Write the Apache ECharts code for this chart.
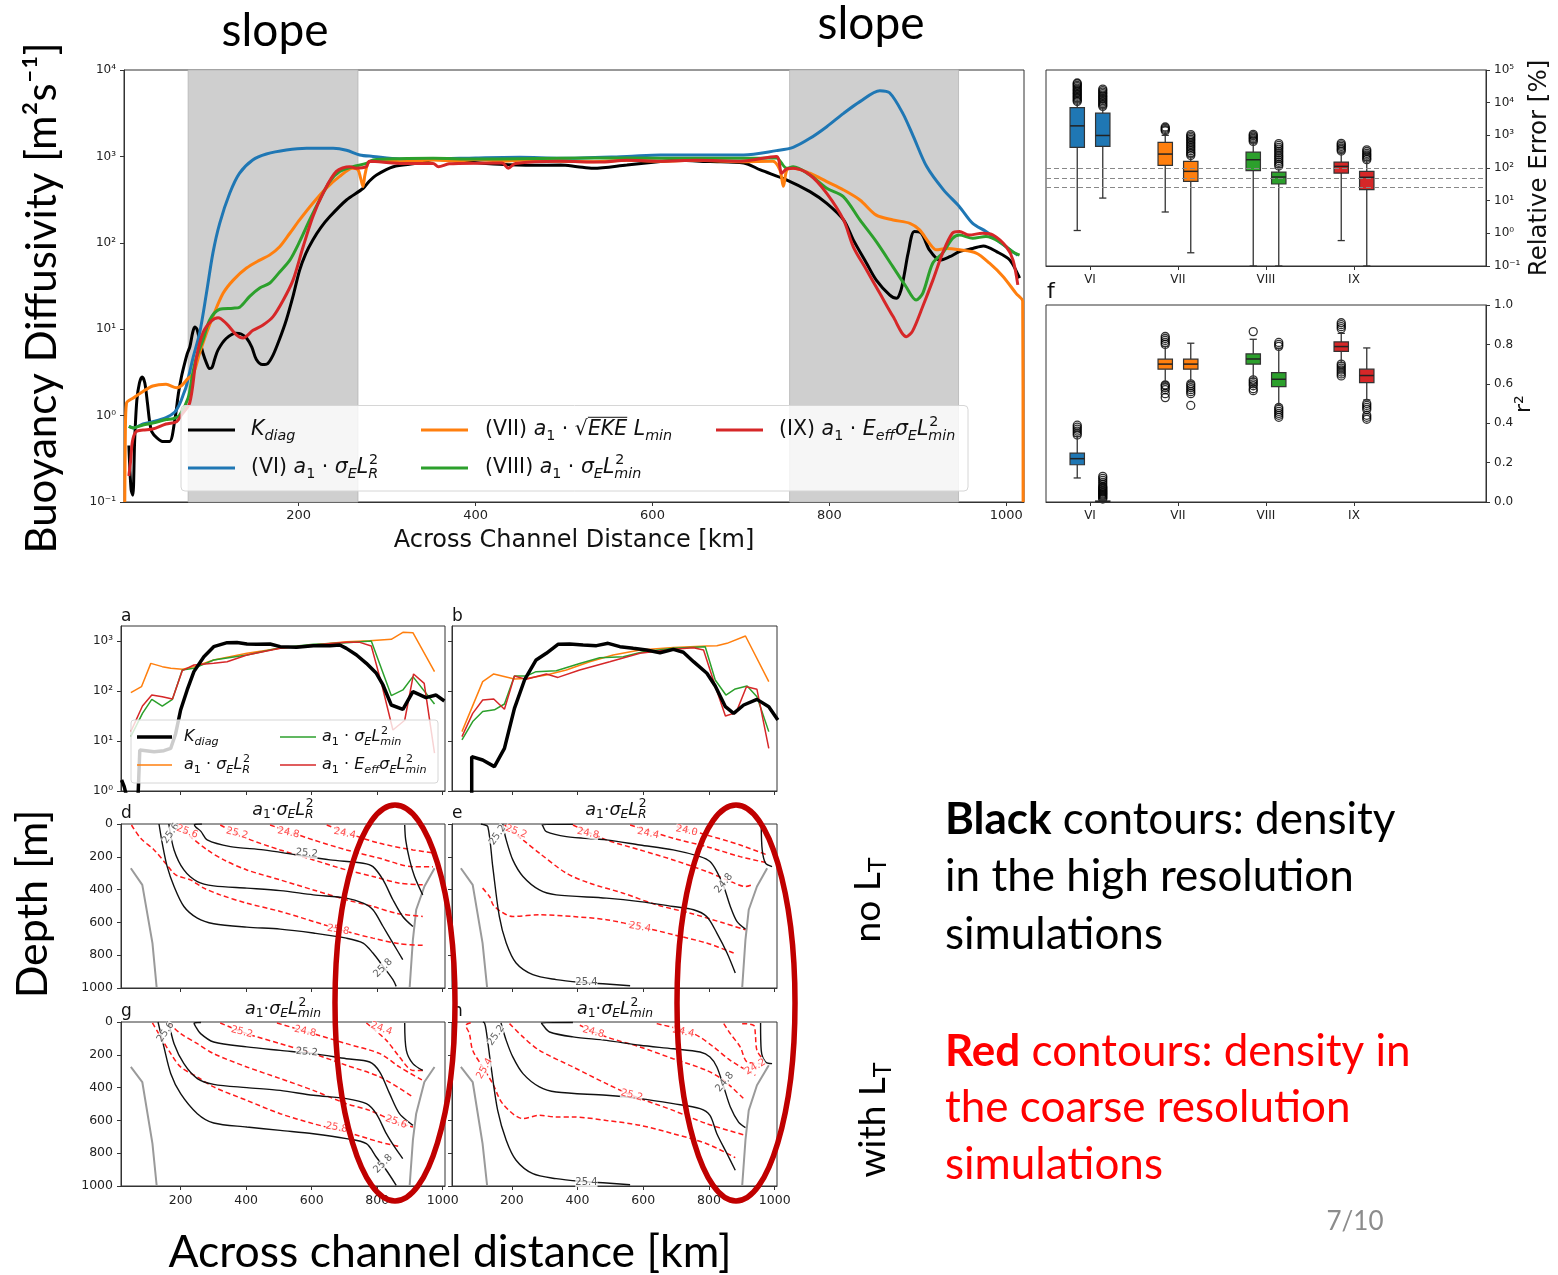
<!DOCTYPE html>
<html><head><meta charset="utf-8">
<script src="https://cdn.jsdelivr.net/npm/echarts@6/dist/echarts.min.js"></script>
<style>html,body{margin:0;padding:0;background:#fff}#c{width:1558px;height:1275px}</style>
</head><body><div id="c"></div>
<script>
// ---------------- DATA ----------------
const mainXTicks = [200, 400, 600, 800, 1000];
const smallXTicks = [200, 400, 600, 800, 1000];
const slopeBands = [[75, 267], [755, 946]];

const mainKdiag = [[8,0.45],[10.5,0.14],[12.5,0.12],[14.5,0.5],[17,1.5],[20,2.4],[23,2.8],[26,2.4],[29,1.4],[31.5,0.85],[34,0.65],[40,0.55],[47,0.5],[54,0.5],[60,0.9],[64,1.8],[67.4,2.8],[71,4],[74,5.2],[77,6.3],[80,9],[82.5,10.6],[85,10],[88,7.5],[92,5.2],[96,4.0],[99,3.5],[102,3.6],[105,4.5],[109,5.8],[118,7.8],[129,9],[135,8.8],[141,7.9],[147,6.2],[152,4.5],[159,3.9],[165,4.0],[171,5.0],[178,7.5],[186,12.8],[194,25],[201,48],[208,75],[216,108],[225,150],[235,200],[254,313],[273,428],[280,520],[288,610],[307,760],[333,830],[356,925],[370,900],[390,860],[427,810],[465,790],[496,795],[515,760],[533,728],[571,795],[609,870],[628,900],[665,870],[703,840],[722,697],[752,533],[778,391],[797,286],[816,184],[827,108],[842,58],[853,37],[868,25],[876,22.8],[881,28.5],[885,45],[889,76],[896,135],[904,129],[913,83],[925,63],[936,69],[947,79],[962,86],[974,92],[989,79],[1004,63],[1015,39]];
const mainVI = [[8,0.75],[13,0.72],[24,0.8],[35,0.85],[50,0.95],[60,1.1],[66,1.4],[70,1.8],[73,2.2],[80.6,4.7],[88,9],[95.7,26],[103,76],[110.7,168],[122,374],[133,637],[148,910],[163.5,1066],[186,1186],[209,1241],[239,1241],[254,1180],[269,1040],[284,1000],[314,935],[352,935],[400,960],[450,975],[496,950],[571,1000],[609,1040],[650,1040],[703,1040],[740,1166],[759,1273],[778,1618],[797,2208],[816,3150],[834.5,4305],[857,5770],[868,5450],[883,3150],[895,1695],[910,762],[929,410],[947,262],[962,168],[977,135],[992,103],[1007,79],[1013,72]];
const mainVII = [[3.4,0.1],[4,0.6],[5.3,1.39],[13,1.6],[24,1.9],[35,2.2],[50,2.3],[62,2.1],[67,2.2],[75,2.7],[80.6,3.0],[88,5.3],[95.7,9],[103,14],[114.5,26],[126,37],[141,51],[156,63],[167,72],[178.5,90],[190,129],[201,184],[216,287],[231,427],[246,583],[261,728],[267,700],[270,560],[272.7,447],[275,620],[280,870],[295,890],[314,870],[352,910],[380,880],[400,920],[430,880],[450,900],[496,880],[533,870],[571,900],[609,880],[650,900],[700,870],[736,880],[744,697],[748,450],[752,700],[759,728],[778,638],[797,511],[816,409],[834.5,313],[853,209],[872,184],[891,168],[902,141],[913,99],[921,83],[932,86],[947,83],[966,76],[981,58],[996,41],[1011,26],[1018.5,21],[1019,0.1]];
const mainVIII = [[8,0.75],[13,0.72],[24,0.78],[35,0.82],[50,0.9],[58,0.92],[65,1.0],[75,1.6],[80,3.0],[84.4,4.7],[92,7.6],[99.4,12.8],[110.7,17],[125.8,17.5],[133.3,18],[144.6,24],[156,30],[167,34],[178.5,46],[190,63],[201,103],[212.4,184],[223.7,313],[235,511],[246.3,670],[261.4,760],[276.5,830],[284,910],[314,940],[352,950],[400,930],[450,940],[496,950],[571,960],[650,950],[720,950],[740,960],[751.7,728],[759,760],[778,610],[797,428],[815.7,343],[834.5,184],[853,103],[871.7,53],[886.7,31],[898,21.8],[905.5,26],[916.8,58],[928,76],[939.4,113],[947,123],[962,113],[977,118],[992,103],[1007,79],[1015,72]];
const mainIX = [[8,0.2],[10,0.3],[12,0.5],[16,0.65],[24,0.68],[35,0.7],[50,0.8],[62,0.85],[67,1.0],[76.8,1.4],[84.4,4.7],[92,9.2],[101.4,12.5],[108.9,13.6],[118.3,11.6],[129.6,8.6],[137,7.9],[148.4,9.7],[159.7,11.2],[171,14],[182.3,21.5],[193.6,37],[205,90],[216,201],[227.5,374],[242.6,670],[257.7,760],[265,730],[276.5,760],[280,880],[314,830],[352,830],[358,760],[370,820],[430,840],[437,730],[445,830],[496,880],[540,860],[571,900],[609,880],[650,900],[700,880],[740,1000],[746,640],[752,720],[759,728],[778,610],[797,374],[816,184],[827,90],[842,48.5],[857,26],[872,14],[887,8.2],[894,9.5],[905.5,18.3],[917,37],[928,76],[939,129],[947,135],[958,123],[973,129],[985,123],[1000,90],[1007.6,63],[1013,32.6]];

const boxCats = ['VI', 'VII', 'VIII', 'IX'];
const boxColors = ['#1f77b4', '#ff7f0e', '#2ca02c', '#d62728'];
// [x, low whisker, q1, median, q3, high whisker, colour index]
const errBoxes = [[0.855,1.22,426,1950,7080,10700,0],[1.145,12,457,990,4770,7000,0],[1.855,4.5,120,267,605,1000,1],[2.145,0.254,39,79,160,225,1],[2.855,0.1,83,179,307,600,2],[3.145,0.1,32.4,53,75,105,2],[3.855,0.6,70,112,152,290,3],[4.145,0.1,21.8,52,79,170,3]];
const errFliers = [[0.855,10800],[0.855,11800],[0.855,13000],[0.855,14300],[0.855,15700],[0.855,17300],[0.855,19000],[0.855,21000],[0.855,23000],[0.855,25500],[0.855,28000],[0.855,31000],[0.855,34000],[0.855,37500],[0.855,40000],
 [1.145,7700],[1.145,8500],[1.145,9400],[1.145,10400],[1.145,11500],[1.145,12700],[1.145,14000],[1.145,15500],[1.145,17000],[1.145,19000],[1.145,21000],[1.145,23500],[1.145,26000],
 [1.855,1380],[1.855,1500],[1.855,1650],[1.855,1800],
 [2.145,240],[2.145,270],[2.145,300],[2.145,340],[2.145,380],[2.145,430],[2.145,480],[2.145,540],[2.145,600],[2.145,680],[2.145,760],[2.145,850],[2.145,950],[2.145,1050],
 [2.855,650],[2.855,720],[2.855,800],[2.855,880],[2.855,970],[2.855,1070],
 [3.145,115],[3.145,130],[3.145,150],[3.145,170],[3.145,195],[3.145,220],[3.145,250],[3.145,290],[3.145,330],[3.145,380],[3.145,430],[3.145,490],[3.145,560],
 [3.855,330],[3.855,370],[3.855,410],[3.855,460],[3.855,510],[3.855,570],
 [4.145,180],[4.145,200],[4.145,225],[4.145,250],[4.145,280],[4.145,320],[4.145,360]];
const errRefLines = [100, 50, 25];
const r2Boxes = [[0.855,0.122,0.189,0.22,0.248,0.333,0],[1.145,0,0,0.002,0.005,0.012,0],[1.855,0.603,0.674,0.70,0.725,0.789,1],[2.145,0.611,0.674,0.70,0.725,0.806,1],[2.855,0.628,0.70,0.726,0.752,0.826,2],[3.145,0.493,0.586,0.623,0.657,0.78,2],[3.855,0.708,0.765,0.789,0.8125,0.856,3],[4.145,0.518,0.606,0.642,0.674,0.782,3]];
const r2Fliers = [[0.855,0.34],[0.855,0.35],[0.855,0.36],[0.855,0.37],[0.855,0.38],[0.855,0.39],
 [1.145,0.015],[1.145,0.02],[1.145,0.025],[1.145,0.03],[1.145,0.035],[1.145,0.04],[1.145,0.045],[1.145,0.05],[1.145,0.055],[1.145,0.06],[1.145,0.065],[1.145,0.07],[1.145,0.075],[1.145,0.08],[1.145,0.09],[1.145,0.10],[1.145,0.11],[1.145,0.12],[1.145,0.13],
 [1.855,0.80],[1.855,0.81],[1.855,0.82],[1.855,0.83],[1.855,0.84],[1.855,0.595],[1.855,0.59],[1.855,0.58],[1.855,0.57],[1.855,0.55],[1.855,0.53],
 [2.145,0.60],[2.145,0.59],[2.145,0.58],[2.145,0.57],[2.145,0.56],[2.145,0.55],[2.145,0.49],
 [2.855,0.865],[2.855,0.62],[2.855,0.61],[2.855,0.60],[2.855,0.59],[2.855,0.575],[2.855,0.565],
 [3.145,0.79],[3.145,0.80],[3.145,0.81],[3.145,0.48],[3.145,0.47],[3.145,0.46],[3.145,0.45],[3.145,0.44],[3.145,0.43],
 [3.855,0.88],[3.855,0.89],[3.855,0.90],[3.855,0.91],[3.855,0.70],[3.855,0.69],[3.855,0.68],[3.855,0.67],[3.855,0.66],[3.855,0.65],[3.855,0.64],
 [4.145,0.50],[4.145,0.49],[4.145,0.48],[4.145,0.47],[4.145,0.44],[4.145,0.43],[4.145,0.42]];

const aK = [[19.7,1.66],[27.8,1.22],[38,0.66],[58,0.66],[70.4,0.9],[75.4,6.6],[119,6.1],[149,6.4],[169.6,7.1],[184.8,14],[200,41.7],[220,105],[240.5,244],[271,486],[301,770],[342,926],[372,937],[402.5,871],[433,858],[473,871],[504,770],[554,747],[605,807],[656,807],[686,832],[706,713],[737,525],[767,357],[797.5,226],[817.7,132],[843,52.5],[878.5,43],[909,97],[949,73.6],[980,83],[1005,63]];
const aR = [[48,92.6],[80.5,122],[109,357],[144,307],[170,284],[205,271],[240.5,307],[301,417],[402.5,567],[504,713],[605,832],[706,970],[777,1016],[843,1080],[878.5,1490],[909,1466],[975,244]];
const aMin = [[48,12.2],[83.5,35.7],[112,68],[144,50],[175,68],[205,263],[240.5,284],[301,417],[402.5,525],[504,736],[605,857],[706,926],[782,1000],[843,81],[878.5,105],[909,194],[975,55]];
const aEff = [[48,15.4],[83.5,50],[112,83],[144,77],[175,69],[205,255],[240.5,331],[301,357],[342,386],[402.5,525],[504,713],[605,832],[706,940],[747,940],[782,794],[813,142],[848,16.6],[884,26],[911,219],[943.5,142],[975,5.7]];
const bK = [[78,0.5],[78,4.86],[111.4,4.17],[147,3.07],[177.6,7.1],[208,45],[238.7,166],[274,417],[305,567],[340.5,858],[376,871],[417,832],[457.6,807],[493,898],[529,770],[569.6,713],[610,661],[651,584],[691.8,681],[722,595],[753,386],[793.7,226],[819,126],[850,48.6],[875,35.7],[905.7,52.5],[946,68],[982,48.6],[1009.6,26.3]];
const bR = [[48.3,15.4],[111.4,154],[145,219],[208,174],[244,177],[305,209],[366,263],[437,385],[508.5,525],[590,661],[691.8,741],[793.7,794],[824,807],[854.8,898],[911,1259],[982,154]];
const bMin = [[48.3,10.5],[81,24.5],[111.4,39],[147,42],[177.6,55],[208,200],[244,200],[274,244],[335.4,255],[406.7,356],[467.7,464],[539,486],[600,612],[691.8,713],[788.6,770],[819,166],[851.5,83],[880,110],[916,126],[946,77],[982,15.4]];
const bEff = [[48.3,12.2],[81,35.7],[111.4,66],[145,69],[177.6,43],[208,200],[244,171],[305,219],[340.5,187],[406.7,263],[498,385],[590,567],[691.8,681],[753,736],[783.5,661],[819,126],[850,31.6],[882.5,36.9],[914,122],[946,108],[982,7.1]];

// contour panels: [km, depth]
const dBlack = [
 [[265,0],[242,3],[246,18],[262,45],[281,97],[352,138],[453,158],[554,189],[656,219],[757,239],[787,260],[818,341],[848,462],[878,564],[909,625]],
 [[164,0],[180,158],[210,280],[251,351],[301,377],[402,391],[504,406],[605,432],[706,452],[757,483],[787,523],[818,625],[848,726],[878,827]],
 [[134,0],[144,118],[159,260],[180,381],[210,503],[251,574],[301,608],[402,629],[504,641],[605,665],[706,696],[757,726],[787,787],[818,868],[848,949],[858,990]],
 [[884,6],[887,97],[899,219],[914,320],[939,432]]];
const dRed = [
 [[50,6],[78,87],[119,158],[154,239],[185,310],[230,341],[271,391],[321,432],[402,483],[504,533],[605,594],[706,655],[787,696],[868,730],[939,740]],
 [[190,6],[230,77],[281,158],[332,219],[402,280],[504,341],[605,402],[706,462],[787,503],[858,544],[939,564]],
 [[321,6],[402,87],[504,158],[605,219],[706,280],[787,320],[868,361],[939,371]],
 [[473,6],[605,97],[706,158],[808,209],[909,260],[970,260]],
 [[646,6],[727,67],[808,118],[909,158],[980,178]]];
const dGray = [[[48,270],[83,371],[114,726],[127,1000]],[[899,1000],[909,706],[919,523],[944,381],[975,270]]];
const dLabels = [[170,57,'25.6',55,'k'],[220,47,'25.6',-20,'r'],[372,57,'25.2',-15,'r'],[529,53,'24.8',-12,'r'],[701,57,'24.4',-12,'r'],[585,178,'25.2',-5,'k'],[681,645,'25.8',-10,'r'],[818,878,'25.8',45,'k']];

const eBlack = [
 [[386,2],[292,3],[295,15],[305,47],[366,77],[488,97],[590,128],[691,158],[773,199],[803,229],[824,290],[845,381],[865,503],[885,594],[911,641]],
 [[172,0],[183,97],[203,219],[234,320],[284,402],[335,432],[488,452],[590,473],[691,503],[753,523],[793,564],[824,665],[855,787],[880,909]],
 [[106,0],[111,2],[127,16],[142,260],[162,564],[183,726],[213,848],[264,919],[335,949],[407,965],[488,976],[560,986]],
 [[959,6],[962,158],[972,239],[992,260]]];
const eRed = [
 [[111,391],[132,442],[147,503],[203,564],[284,554],[386,564],[488,584],[590,625],[691,675],[793,726],[875,787]],
 [[178,6],[234,97],[284,178],[366,300],[437,361],[539,422],[641,493],[743,544],[845,604],[911,645]],
 [[386,6],[488,97],[590,158],[691,219],[793,290],[855,341],[911,381],[931,371]],
 [[560,6],[691,87],[793,138],[895,199],[982,239]],
 [[702,16],[793,67],[895,128],[977,189]]];
const eGray = [[[45,270],[81,371],[111,726],[125,1000]],[[901,1000],[911,706],[921,523],[946,381],[977,270]]];
const eLabels = [[157,67,'25.2',55,'k'],[213,47,'25.2',-20,'r'],[432,57,'24.8',-12,'r'],[615,57,'24.4',-12,'r'],[732,41,'24.0',-12,'r'],[845,361,'24.8',50,'k'],[590,629,'25.4',-10,'r'],[427,965,'25.4',0,'k']];

const gBlack = [
 [[262,3],[241,6],[245,25],[261,71],[301,122],[402,152],[504,173],[605,193],[706,224],[777,244],[808,305],[838,437],[868,559],[909,630]],
 [[164,0],[180,132],[210,254],[251,345],[301,380],[402,400],[504,417],[605,447],[706,467],[767,498],[797,559],[828,681],[853,762],[878,833]],
 [[131,0],[149,152],[170,315],[200,437],[251,559],[301,616],[402,640],[504,661],[605,681],[706,711],[767,742],[797,823],[828,904],[858,996]],
 [[884,6],[889,173],[909,254],[939,295]]];
const gRed = [
 [[114,6],[139,91],[170,193],[200,274],[251,335],[301,396],[402,478],[504,559],[605,620],[706,671],[808,732],[873,762]],
 [[164,6],[200,71],[251,132],[301,193],[402,274],[504,345],[605,417],[706,498],[777,539],[858,610],[909,640]],
 [[321,6],[402,71],[504,132],[605,193],[706,264],[808,335],[909,457]],
 [[494,6],[605,71],[706,132],[808,193],[868,274],[939,356]],
 [[767,6],[828,112],[868,213],[909,295],[944,295]]];
const gGray = [[[48,274],[83,366],[114,742],[127,1000]],[[899,1000],[909,721],[919,559],[944,366],[975,274]]];
const gLabels = [[154,61,'25.6',55,'k'],[387,61,'25.2',-15,'r'],[580,57,'24.8',-12,'r'],[813,41,'24.4',-20,'r'],[585,183,'25.2',-5,'k'],[676,644,'25.8',-10,'r'],[858,610,'25.6',-20,'r'],[818,864,'25.8',45,'k']];

const hBlack = [
 [[386,3],[290,5],[295,20],[315,61],[386,91],[488,112],[590,142],[691,163],[773,183],[803,213],[824,274],[845,396],[865,518],[890,610],[911,644]],
 [[167,6],[183,112],[203,213],[234,315],[284,396],[335,427],[488,447],[590,467],[691,498],[773,528],[803,569],[824,681],[855,803],[880,904]],
 [[112,0],[117,6],[122,51],[137,274],[157,539],[183,721],[213,843],[264,925],[335,955],[407,971],[488,982],[560,992]],
 [[957,6],[959,173],[972,244],[992,254]]];
const hRed = [
 [[75,5],[60,20],[71,71],[81,173],[111,274],[142,376],[172,498],[234,589],[284,569],[335,579],[386,579],[488,600],[590,630],[691,681],[793,742],[880,827]],
 [[193,10],[234,91],[284,173],[386,274],[488,376],[565,447],[691,539],[793,620],[911,691]],
 [[407,20],[488,91],[590,152],[691,224],[793,295],[845,356],[911,478]],
 [[641,10],[753,71],[814,152],[865,234],[941,325]],
 [[845,10],[865,71],[895,152],[916,244],[957,254]],
 [[901,10],[936,20],[941,71],[946,173],[967,234]]];
const hGray = [[[45,274],[81,366],[111,742],[125,1000]],[[901,1000],[911,721],[921,539],[946,386],[982,264]]];
const hLabels = [[152,81,'25.2',55,'k'],[117,284,'25.4',60,'r'],[448,61,'24.8',-15,'r'],[722,61,'24.4',-12,'r'],[565,447,'25.2',-15,'r'],[848,366,'24.8',50,'k'],[941,274,'24.2',30,'r'],[427,976,'25.4',0,'k']];

// ---------------- HELPERS ----------------
const SUP = {'-':'⁻','0':'⁰','1':'¹','2':'²','3':'³','4':'⁴','5':'⁵'};
function pow10(v){ const e = Math.round(Math.log10(v)); return '10' + String(e).split('').map(c => SUP[c]).join(''); }
const plain = v => String(v);
const FF = 'DejaVu Sans';
function ax(o){
  const base = {axisLine:{show:true,onZero:false,lineStyle:{color:'#333',width:1}},
    axisTick:{show:true,length:4,lineStyle:{color:'#333'}},
    axisLabel:{color:'#222',fontFamily:FF,fontSize:12}, splitLine:{show:false}};
  for (const k in o){ if (base[k] && typeof o[k]==='object' && !Array.isArray(o[k])) base[k]=Object.assign({},base[k],o[k]); else base[k]=o[k]; }
  return base;
}
const mctx = document.createElement('canvas').getContext('2d');
function mw(t,f){ mctx.font=f; return mctx.measureText(t).width; }
function fnt(s,it){ return (it?'italic ':'') + s.toFixed(1) + 'px "DejaVu Sans"'; }
function T(x,y,text,font,color,opt){
  opt = opt || {};
  return {type:'text', x:x, y:y, rotation:opt.rot||0, z:opt.z||100, silent:true,
    style:{text:text, font:font, fill:color, align:opt.align||'center', verticalAlign:'middle', textAlign:opt.align||'center', textVerticalAlign:'middle', rich:opt.rich}};
}
function mathEls(parts,x,y,size,color,align){
  const items=[]; let cx=0; const ss=size*0.7;
  for (const p of parts){
    if (p.sup!==undefined){
      const f1=fnt(ss,false), f2=fnt(ss,true);
      items.push({t:p.sup,f:f1,x:cx+size*0.04,dy:-0.36*size});
      items.push({t:p.sub,f:f2,x:cx,dy:0.3*size});
      cx += Math.max(mw(p.sup,f1)+size*0.04, mw(p.sub,f2));
    } else if (p.sub){
      const f=fnt(ss,p.i); items.push({t:p.t,f:f,x:cx,dy:0.3*size}); cx+=mw(p.t,f);
    } else {
      const f=fnt(size,p.i); const w=mw(p.t,f); items.push({t:p.t,f:f,x:cx,dy:0,over:p.over,w:w}); cx+=w;
    }
  }
  const x0 = align==='center' ? x-cx/2 : x;
  const els=[];
  items.forEach(it => {
    els.push({type:'text', x:x0+it.x, y:y+it.dy, z:110, silent:true, style:{text:it.t, font:it.f, fill:color, align:'left', verticalAlign:'middle', textAlign:'left', textVerticalAlign:'middle'}});
    if (it.over) els.push({type:'line', z:110, silent:true, shape:{x1:x0+it.x, y1:y-size*0.62, x2:x0+it.x+it.w, y2:y-size*0.62}, style:{stroke:color, lineWidth:1}});
  });
  return els;
}
const A1 = [{t:'a',i:1},{t:'1',sub:1},{t:' · '}];
const sEL = [{t:'σ',i:1},{t:'E',i:1,sub:1},{t:'L',i:1}];
const fR = A1.concat(sEL,[{sup:'2',sub:'R'}]);
const fMin = A1.concat(sEL,[{sup:'2',sub:'min'}]);
const fEff = A1.concat([{t:'E',i:1},{t:'eff',i:1,sub:1}],sEL,[{sup:'2',sub:'min'}]);
const fEKE = A1.concat([{t:'√'},{t:'EKE',i:1,over:1},{t:' '},{t:'L',i:1},{t:'min',i:1,sub:1}]);
const fK = [{t:'K',i:1},{t:'diag',i:1,sub:1}];

// ---------------- SERIES ----------------
const series = [];
series.push({type:'line', xAxisIndex:0, yAxisIndex:0, data:[[500,1000]], showSymbol:false, lineStyle:{opacity:0}, z:1, silent:true,
  markArea:{silent:true, itemStyle:{color:'#cfcfcf', borderColor:'#b5b5b5', borderWidth:0.8}, data: slopeBands.map(b => [{xAxis:b[0]},{xAxis:b[1]}])}});
[[mainKdiag,'#000000'],[mainVI,boxColors[0]],[mainVII,boxColors[1]],[mainVIII,boxColors[2]],[mainIX,boxColors[3]]].forEach((s,i) => {
  series.push({type:'line', xAxisIndex:0, yAxisIndex:0, data:s[0], showSymbol:false, smooth:0.3, z:3+i, lineStyle:{color:s[1], width:3}, itemStyle:{color:s[1]}});
});
function boxRender(params, api){
  const x=api.value(0); const v=[1,2,3,4,5].map(i=>api.value(i)); const c=boxColors[api.value(6)];
  const P = val => api.coord([x,val]);
  const lo=P(v[0]), q1=P(v[1]), md=P(v[2]), q3=P(v[3]), hi=P(v[4]);
  const cx=q1[0], hw=7.2, cw=3.6; const ls={stroke:'#333', lineWidth:1.3};
  return {type:'group', children:[
    {type:'line', shape:{x1:cx,y1:lo[1],x2:cx,y2:q1[1]}, style:ls},
    {type:'line', shape:{x1:cx,y1:q3[1],x2:cx,y2:hi[1]}, style:ls},
    {type:'line', shape:{x1:cx-cw,y1:lo[1],x2:cx+cw,y2:lo[1]}, style:ls},
    {type:'line', shape:{x1:cx-cw,y1:hi[1],x2:cx+cw,y2:hi[1]}, style:ls},
    {type:'rect', shape:{x:cx-hw,y:q3[1],width:2*hw,height:Math.max(1,q1[1]-q3[1])}, style:{fill:c, stroke:'#333', lineWidth:1.2}},
    {type:'line', shape:{x1:cx-hw,y1:md[1],x2:cx+hw,y2:md[1]}, style:{stroke:'#222', lineWidth:1.5}}
  ]};
}
series.push({type:'scatter', xAxisIndex:1, yAxisIndex:1, data:errFliers, symbol:'circle', symbolSize:8, z:2,
  itemStyle:{color:'rgba(255,255,255,0)', borderColor:'#000', borderWidth:1.3},
  markLine:{silent:true, symbol:'none', label:{show:false}, lineStyle:{type:[5,3], color:'#888', width:1}, data: errRefLines.map(v=>({yAxis:v}))}});
series.push({type:'custom', xAxisIndex:1, yAxisIndex:1, data:errBoxes, renderItem:boxRender, z:3, encode:{x:0,y:3}});
series.push({type:'scatter', xAxisIndex:2, yAxisIndex:2, data:r2Fliers, symbol:'circle', symbolSize:8, z:2,
  itemStyle:{color:'rgba(255,255,255,0)', borderColor:'#000', borderWidth:1.3}});
series.push({type:'custom', xAxisIndex:2, yAxisIndex:2, data:r2Boxes, renderItem:boxRender, z:3, encode:{x:0,y:3}});

[[aK,aR,aMin,aEff,3],[bK,bR,bMin,bEff,4]].forEach(p => {
  const idx=p[4];
  [[p[1],boxColors[1],1.5],[p[2],boxColors[2],1.5],[p[3],boxColors[3],1.5],[p[0],'#000',3.5]].forEach((s,j) => {
    series.push({type:'line', xAxisIndex:idx, yAxisIndex:idx, data:s[0], showSymbol:false, z:3+j, lineStyle:{color:s[1], width:s[2]}});
  });
});
[[dBlack,dRed,dGray,dLabels,5],[eBlack,eRed,eGray,eLabels,6],[gBlack,gRed,gGray,gLabels,7],[hBlack,hRed,hGray,hLabels,8]].forEach(p => {
  const idx=p[4];
  p[2].forEach(l => series.push({type:'line', xAxisIndex:idx, yAxisIndex:idx, data:l, showSymbol:false, z:2, lineStyle:{color:'#9a9a9a', width:2}}));
  p[1].forEach(l => series.push({type:'line', xAxisIndex:idx, yAxisIndex:idx, data:l, showSymbol:false, smooth:0.3, z:3, lineStyle:{color:'#ff1a1a', width:1.5, type:[5,3]}}));
  p[0].forEach(l => series.push({type:'line', xAxisIndex:idx, yAxisIndex:idx, data:l, showSymbol:false, smooth:0.3, z:4, lineStyle:{color:'#111', width:1.4}}));
  series.push({type:'scatter', xAxisIndex:idx, yAxisIndex:idx, symbolSize:0.1, z:6, itemStyle:{color:'rgba(0,0,0,0)'},
    label:{show:true, position:'inside', fontFamily:FF, fontSize:10, formatter: q => q.data.t, backgroundColor:'#fff', padding:[0,0]},
    data: p[3].map(l => ({value:[l[0],l[1]], t:l[2], label:{rotate:l[3], color: l[4]==='k' ? '#333' : '#ff2020'}}))});
});

// ---------------- GRAPHIC ----------------
const G = [];
G.push({type:'rect', z:100, silent:true, shape:{x:181,y:405.5,width:787,height:85.5,r:4}, style:{fill:'rgba(255,255,255,0.8)', stroke:'#d6d6d6', lineWidth:1}});
[[188,235,430,'#000',fK,251],[188,235,468,boxColors[0],[{t:'(VI) '}].concat(fR),251],[421,468,430,boxColors[1],[{t:'(VII) '}].concat(fEKE),485],[421,468,468,boxColors[2],[{t:'(VIII) '}].concat(fMin),485],[716,763,430,boxColors[3],[{t:'(IX) '}].concat(fEff),779]].forEach(r => {
  G.push({type:'line', z:105, silent:true, shape:{x1:r[0],y1:r[2],x2:r[1],y2:r[2]}, style:{stroke:r[3], lineWidth:3}});
  mathEls(r[4], r[5], r[2], 20.5, '#111', 'left').forEach(e => G.push(e));
});
G.push({type:'rect', z:100, silent:true, shape:{x:131,y:720,width:307,height:63,r:3}, style:{fill:'rgba(255,255,255,0.8)', stroke:'#d6d6d6', lineWidth:1}});
[[137,172,737,'#000',3.5,fK,184],[137,172,765,boxColors[1],1.5,fR,184],[280,316,737,boxColors[2],1.5,fMin,322],[280,316,765,boxColors[3],1.5,fEff,322]].forEach(r => {
  G.push({type:'line', z:105, silent:true, shape:{x1:r[0],y1:r[2],x2:r[1],y2:r[2]}, style:{stroke:r[3], lineWidth:r[4]}});
  mathEls(r[5], r[6], r[2], 16, '#111', 'left').forEach(e => G.push(e));
});
const tight = f => f.map(p => p.t===' · ' ? {t:'·'} : p);
mathEls(tight(fR), 283, 810, 17.5, '#111', 'center').forEach(e=>G.push(e));
mathEls(tight(fR), 616, 810, 17.5, '#111', 'center').forEach(e=>G.push(e));
mathEls(tight(fMin), 283, 1009, 17.5, '#111', 'center').forEach(e=>G.push(e));
mathEls(tight(fMin), 615, 1009, 17.5, '#111', 'center').forEach(e=>G.push(e));
[['a',121,617],['b',452,617],['d',121,814],['e',452,814],['g',121,1012],['h',452,1012]].forEach(l => G.push(T(l[1],l[2],l[0],'17px "DejaVu Sans"','#111',{align:'left'})));
G.push(T(1047,292,'f','22px "DejaVu Sans"','#111',{align:'left'}));
G.push(T(1540,168,'Relative Error [%]','24.5px "DejaVu Sans"','#111',{rot:Math.PI/2}));
G.push(T(1524,404,'r²','22px "DejaVu Sans"','#111',{rot:Math.PI/2}));
// slide texts
G.push(T(275,31,'slope','46px Lato','#000'));
G.push(T(871,24,'slope','46px Lato','#000'));
G.push(T(42,298,'Buoyancy Diffusivity [m²s⁻¹]','42px Lato','#000',{rot:Math.PI/2}));
G.push(T(33,904,'Depth [m]','43px Lato','#000',{rot:Math.PI/2}));
G.push(T(450,1253,'Across channel distance [km]','44.5px Lato','#000'));
G.push(T(868,900,'{a|no L}{s|T}','','#000',{rot:Math.PI/2, rich:{a:{font:'37px Lato',fill:'#000',lineHeight:44},s:{font:'25px Lato',fill:'#000',verticalAlign:'bottom',lineHeight:26}}}));
G.push(T(873,1120,'{a|with L}{s|T}','','#000',{rot:Math.PI/2, rich:{a:{font:'37px Lato',fill:'#000',lineHeight:44},s:{font:'25px Lato',fill:'#000',verticalAlign:'bottom',lineHeight:26}}}));
const rb = (c) => ({b:{font:'bold 44px Lato',fill:c}, n:{font:'44px Lato',fill:c}});
G.push(T(945,820,'{b|Black}{n| contours: density}','','#000',{align:'left',rich:rb('#000')}));
G.push(T(945,877,'{n|in the high resolution}','','#000',{align:'left',rich:rb('#000')}));
G.push(T(945,935,'{n|simulations}','','#000',{align:'left',rich:rb('#000')}));
G.push(T(945,1052,'{b|Red}{n| contours: density in}','','#f00',{align:'left',rich:rb('#ff0000')}));
G.push(T(945,1108,'{n|the coarse resolution}','','#f00',{align:'left',rich:rb('#ff0000')}));
G.push(T(945,1165,'{n|simulations}','','#f00',{align:'left',rich:rb('#ff0000')}));
G.push(T(1355,1222,'7/10','26px Lato','#8c8c8c'));
G.push({type:'ellipse', z:120, silent:true, shape:{cx:395,cy:1003,rx:60,ry:198}, style:{fill:'none', stroke:'#c00000', lineWidth:5.5}});
G.push({type:'ellipse', z:120, silent:true, shape:{cx:736,cy:1003,rx:59,ry:198}, style:{fill:'none', stroke:'#c00000', lineWidth:5.5}});

// ---------------- AXES ----------------
const xAxis = [
  ax({gridIndex:0,type:'value',min:2.5,max:1020,axisLabel:{customValues:mainXTicks,fontSize:13,margin:7,formatter:plain},axisTick:{customValues:mainXTicks},
     name:'Across Channel Distance [km]',nameLocation:'middle',nameGap:27,nameTextStyle:{fontSize:24,fontFamily:FF,color:'#111'}}),
  ax({gridIndex:1,type:'value',min:0.5,max:5.5,axisLabel:{customValues:[1,2,3,4],formatter:v=>boxCats[Math.round(v)-1]||''},axisTick:{customValues:[1,2,3,4]}}),
  ax({gridIndex:2,type:'value',min:0.5,max:5.5,axisLabel:{customValues:[1,2,3,4],formatter:v=>boxCats[Math.round(v)-1]||''},axisTick:{customValues:[1,2,3,4]}})
];
const yAxis = [
  ax({gridIndex:0,type:'log',logBase:10,min:0.1,max:10000,axisLabel:{formatter:pow10}}),
  ax({gridIndex:1,type:'log',logBase:10,min:0.1,max:100000,position:'right',axisLabel:{formatter:pow10}}),
  ax({gridIndex:2,type:'value',min:0,max:1,interval:0.2,position:'right',axisLabel:{formatter:v=>v.toFixed(1)}})
];
for (let i=3;i<=8;i++){
  xAxis.push(ax({gridIndex:i,type:'value',min:18,max:1007,axisLabel:{show:i>=7,customValues:smallXTicks,fontSize:12.5,formatter:plain},axisTick:{customValues:smallXTicks}}));
}
yAxis.push(ax({gridIndex:3,type:'log',logBase:10,min:1,max:1995,axisLabel:{customValues:[1,10,100,1000],formatter:pow10},axisTick:{customValues:[1,10,100,1000]}}));
yAxis.push(ax({gridIndex:4,type:'log',logBase:10,min:1,max:1995,axisLabel:{show:false,customValues:[1,10,100,1000]},axisTick:{customValues:[1,10,100,1000]}}));
for (let i=5;i<=8;i++){
  yAxis.push(ax({gridIndex:i,type:'value',inverse:true,min:0,max:1000,interval:200,axisLabel:{show:i===5||i===7,formatter:plain,fontSize:12.5}}));
}
const grids = [
 {left:124, top:70, width:900, height:432},
 {left:1046, top:70, width:440, height:196},
 {left:1046, top:305, width:440, height:197},
 {left:121, top:626, width:324, height:165},
 {left:452, top:626, width:325, height:165},
 {left:121, top:824, width:324, height:164},
 {left:452, top:824, width:325, height:164},
 {left:121, top:1022, width:324, height:164},
 {left:452, top:1022, width:325, height:164}
].map(g => Object.assign({show:true, borderColor:'#333', borderWidth:1, backgroundColor:'rgba(0,0,0,0)'}, g));

const chart = echarts.init(document.getElementById('c'), null, {renderer:'canvas', width:1558, height:1275});
chart.setOption({
  animation:false, backgroundColor:'#fff',
  textStyle:{fontFamily:FF},
  grid:grids, xAxis:xAxis, yAxis:yAxis, series:series,
  graphic:{elements:G}
});
</script></body></html>
